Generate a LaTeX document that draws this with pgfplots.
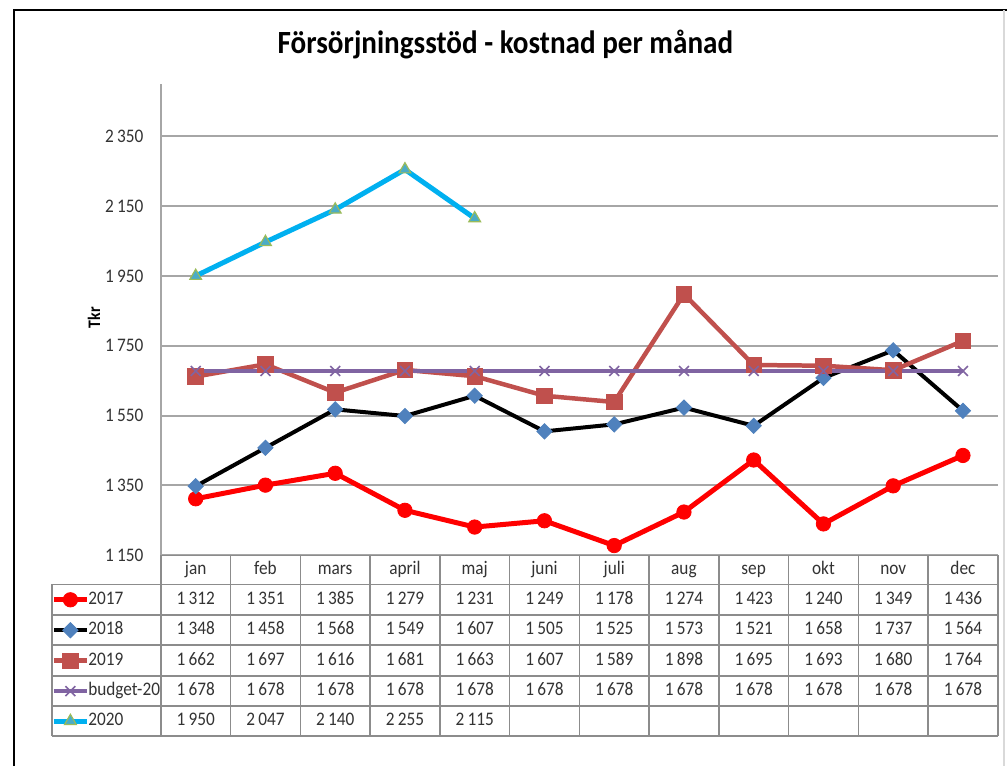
\documentclass[border=0pt]{standalone}
\usepackage{fontspec}
\setmainfont{Carlito}[FakeStretch=0.9]
\usepackage{pgfplots}
\usepackage{pgfplotstable}
\pgfplotsset{compat=1.18}
\definecolor{c2017}{HTML}{FF0000}
\definecolor{c2018m}{HTML}{4F81BD}
\definecolor{c2019}{HTML}{C0504D}
\definecolor{cbud}{HTML}{8064A2}
\definecolor{c2020}{HTML}{00B0F0}
\definecolor{c2020f}{HTML}{4BACC6}
\definecolor{c2020e}{HTML}{9BBB59}
\definecolor{gridc}{HTML}{A6A6A6}
\definecolor{tabc}{HTML}{8C8C8C}
\definecolor{txt}{HTML}{333333}
\newcommand\tf{\fontsize{9.6pt}{11pt}\selectfont}

\pgfplotstableread{
m y2017 y2018 y2019 bud
0 1312 1348 1662 1678
1 1351 1458 1697 1678
2 1385 1568 1616 1678
3 1279 1549 1681 1678
4 1231 1607 1663 1678
5 1249 1505 1607 1678
6 1178 1525 1589 1678
7 1274 1573 1898 1678
8 1423 1521 1695 1678
9 1240 1658 1693 1678
10 1349 1737 1680 1678
11 1436 1564 1764 1678
}\datatable
\pgfplotstableread{
m y2020
0 1950
1 2047
2 2140
3 2255
4 2115
}\datatwenty

\tikzset{
  s2017/.style={color=c2017, line width=2.5pt, mark=*, mark size=3.6pt,
    mark options={solid, fill=c2017, draw=c2017, line width=0.4pt}},
  s2018/.style={color=black, line width=2pt, mark=square*, mark size=2.7pt,
    mark options={solid, rotate=45, fill=c2018m, draw=c2018m, line width=0.4pt}},
  s2019/.style={color=c2019, line width=2.25pt, mark=square*, mark size=3.9pt,
    mark options={solid, fill=c2019, draw=c2019, line width=0.4pt}},
  sbud/.style={color=cbud, line width=2pt, mark=x, mark size=3.5pt,
    mark options={solid, draw=cbud, line width=0.8pt}},
  s2020/.style={color=c2020, line width=2.5pt, mark=triangle*, mark size=3.4pt,
    mark options={solid, fill=c2020f, draw=c2020e, line width=0.6pt}},
  cell/.style={font=\tf, color=txt, text height=6.6pt, text depth=1.9pt, inner sep=0pt},
}

\begin{document}
\begin{tikzpicture}
\begin{scope}[x=0.5pt,y=-0.5pt]
\useasboundingbox (0,0) rectangle (1008,767);
\fill[white] (0,0) rectangle (1008,767);
\end{scope}

\begin{axis}[
  at={(80.5pt,-278pt)}, anchor=south west,
  width=419pt, height=236pt, scale only axis,
  xmin=-0.5, xmax=11.5, ymin=1150, ymax=2500,
  axis x line=none, axis y line=left,
  y axis line style={gridc, line width=1pt, -},
  xtick=\empty,
  ytick={1150,1350,1550,1750,1950,2150,2350},
  yticklabels={1\,150,1\,350,1\,550,1\,750,1\,950,2\,150,2\,350},
  yticklabel style={font=\tf, color=txt, inner sep=0pt, xshift=-8.5pt},
  ymajorgrids, grid style={gridc, line width=1pt},
  major tick length=0pt,
  clip=false,
]
\addplot[s2017] table[x=m, y=y2017] {\datatable};
\addplot[s2018] table[x=m, y=y2018] {\datatable};
\addplot[s2019] table[x=m, y=y2019] {\datatable};
\addplot[sbud] table[x=m, y=bud] {\datatable};
\addplot[s2020] table[x=m, y=y2020] {\datatwenty};
\end{axis}

\begin{scope}[x=0.5pt,y=-0.5pt]
% frame
\draw[black, line width=1.2pt] (14,767) -- (14,10) -- (1008,10);
\draw[black!15, line width=1pt] (1005,10) -- (1005,767);
% title
\node[font=\fontsize{16.2pt}{19pt}\selectfont\bfseries] at (506,45) {Försörjningsstöd - kostnad per månad};
% y label
\node[rotate=90, font=\fontsize{8.8pt}{10pt}\selectfont\bfseries, color=black] at (94,318) {Tkr};
% table grid
\begin{scope}[tabc, line width=0.8pt]
\draw (161,556) -- (999,556);
\foreach \yy in {585,616,646,677,707,737} { \draw (52,\yy) -- (999,\yy); }
\draw (52,585) -- (52,737);
\foreach \k in {0,...,12} { \draw ({161+69.8333*\k},556) -- ({161+69.8333*\k},737); }
\end{scope}
% month header
\foreach \mo [count=\c from 0] in {jan,feb,mars,april,maj,juni,juli,aug,sep,okt,nov,dec} {
  \node[cell] at ({161+69.8333*(\c+0.5)},570.5) {\mo};
}
% values
\pgfkeys{/pgf/number format/.cd, fixed, precision=0, 1000 sep={\,}, assume math mode=true}
\foreach \r in {0,...,11} {
  \pgfmathsetmacro\cx{161+69.8333*(\r+0.5)}
  \pgfplotstablegetelem{\r}{y2017}\of\datatable
  \node[cell] at (\cx,600.5) {\pgfmathprintnumber{\pgfplotsretval}};
  \pgfplotstablegetelem{\r}{y2018}\of\datatable
  \node[cell] at (\cx,631) {\pgfmathprintnumber{\pgfplotsretval}};
  \pgfplotstablegetelem{\r}{y2019}\of\datatable
  \node[cell] at (\cx,661.5) {\pgfmathprintnumber{\pgfplotsretval}};
  \pgfplotstablegetelem{\r}{bud}\of\datatable
  \node[cell] at (\cx,692) {\pgfmathprintnumber{\pgfplotsretval}};
}
\foreach \r in {0,...,4} {
  \pgfmathsetmacro\cx{161+69.8333*(\r+0.5)}
  \pgfplotstablegetelem{\r}{y2020}\of\datatwenty
  \node[cell] at (\cx,722) {\pgfmathprintnumber{\pgfplotsretval}};
}
% legend keys
\foreach \st/\lab/\yy in {s2017/2017/600.5, s2018/2018/631, s2019/2019/661.5, sbud/budget-20/692, s2020/2020/722} {
  \draw[\st] (54,\yy) -- (87,\yy);
  \draw[\st] plot coordinates {(70.5,\yy)};
  \node[cell, anchor=west] at (88,\yy) {\lab};
}
\end{scope}
\end{tikzpicture}
\end{document}
